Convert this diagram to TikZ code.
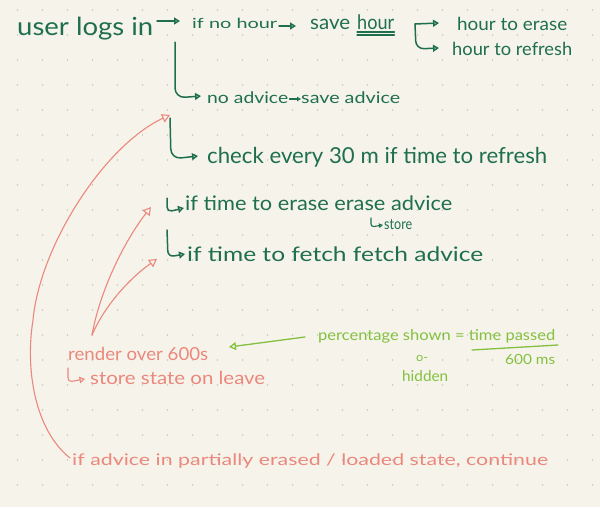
\documentclass[tikz,border=0pt]{standalone}
\usepackage{fontspec}
\usepackage{graphicx}
\setmainfont{Lato}
\usetikzlibrary{arrows.meta}
\definecolor{paper}{HTML}{F6F4EA}
\definecolor{dotc}{HTML}{CBC8BE}
\definecolor{dgreen}{HTML}{1F6F4F}
\definecolor{pinkc}{HTML}{EB877D}
\definecolor{lgreen}{HTML}{84C040}
\newcommand\fitw[3]{\resizebox{#1pt}{\height}{\fontsize{#2}{#2}\selectfont #3}}
\tikzset{
  txt/.style={inner sep=0pt, anchor=base west},
  gtxt/.style={txt, text=dgreen},
  ptxt/.style={txt, text=pinkc},
  ltxt/.style={txt, text=lgreen},
  garr/.style={draw=dgreen, line width=1.5pt, line cap=round, line join=round,
    -{Triangle[open,length=6pt,width=7pt]}},
  parr/.style={draw=pinkc, line width=1.1pt, line cap=round,
    -{Triangle[open,length=8pt,width=9pt]}},
  larr/.style={draw=lgreen, line width=1.3pt, line cap=round,
    -{Triangle[open,length=7pt,width=8pt]}},
}
\begin{document}
\begin{tikzpicture}[x=1pt,y=-1pt]
\fill[paper] (0,0) rectangle (600,507);
\useasboundingbox (0,0) rectangle (600,507);
\foreach \i in {0,...,23}{\foreach \j in {0,...,19}{
  \fill[dotc] (17.5+25*\i,10+25*\j) circle (0.9pt);}}

% green dark texts
\node[gtxt] (ulogin) at (17,35) {\fitw{136}{25}{user logs in}};
\node[gtxt] (ifnohour) at (192,28) {\fitw{85}{14}{if no hour}};
\node[gtxt] (save) at (310,29) {\fitw{40}{20}{save}};
\node[gtxt] (hour) at (357,29) {\fitw{37}{20}{hour}};
\node[gtxt] (herase) at (457,30) {\fitw{110}{18}{hour to erase}};
\node[gtxt] (hrefresh) at (452,55) {\fitw{120}{18}{hour to refresh}};
\node[gtxt] (noadv) at (207,103) {\fitw{81}{16}{no advice}};
\node[gtxt] (saveadv) at (301,103) {\fitw{99}{16}{save advice}};
\node[gtxt] (check) at (207,163) {\fitw{340}{22}{check every 30 m if time to refresh}};
\node[gtxt] (erase) at (185,210) {\fitw{267}{20}{if time to erase erase advice}};
\node[gtxt] (store) at (384,229) {\fitw{28}{15}{store}};
\node[gtxt] (fetch) at (187,261) {\fitw{296}{20}{if time to fetch fetch advice}};

% pink texts
\node[ptxt] (render) at (68,360) {\fitw{140}{18}{render over 600s}};
\node[ptxt] (sstate) at (90,384) {\fitw{175}{18}{store state on leave}};
\node[ptxt] (ifadv) at (72,465) {\fitw{476}{16}{if advice in partially erased / loaded state, continue}};

% light green texts
\node[ltxt] (perc) at (318,340) {\fitw{237}{15}{percentage shown = time passed}};
\node[ltxt] (ms) at (505,364) {\fitw{50}{14}{600 ms}};
\node[ltxt] (omin) at (416,361) {\fitw{12}{12}{o-}};
\node[ltxt] (hidden) at (402,381) {\fitw{46}{15}{hidden}};

% underline of hour
\draw[dgreen, line width=1.2pt, line cap=round] ([yshift=-3pt]hour.base west) -- ([yshift=-3pt]hour.base east);
\draw[dgreen, line width=1.2pt, line cap=round] ([yshift=-6pt]hour.base west) -- ([yshift=-6pt]hour.base east);

% green connectors
\coordinate (a1s) at (157,21); \coordinate (a1e) at (180,21);
\draw[garr] (a1s) -- (a1e);
\coordinate (a2s) at (279,26); \coordinate (a2e) at (296,26);
\draw[garr] (a2s) -- (a2e);
\coordinate (br) at (415,24);
\coordinate (b1e) at (439,23); \coordinate (b2e) at (439,48);
\draw[garr] (br) -- (b1e);
\draw[garr, rounded corners=8pt] (br) -- (416,49) -- (b2e);
\coordinate (h1s) at (175,42); \coordinate (h1e) at (201,96);
\draw[garr, rounded corners=10pt] (h1s) -- (175,98) -- (h1e);
\coordinate (h2s) at (170,118); \coordinate (h2e) at (198,156);
\draw[garr, rounded corners=10pt] (h2s) -- (171,159) -- (h2e);
\coordinate (h3s) at (167,198); \coordinate (h3e) at (184,208);
\draw[garr, rounded corners=5pt] (h3s) -- (167,212) -- (h3e);
\coordinate (h4s) at (167,230); \coordinate (h4e) at (185,254);
\draw[garr, rounded corners=6pt] (h4s) -- (168,257) -- (h4e);
\coordinate (h5s) at (371,218); \coordinate (h5e) at (383,225);
\draw[garr, line width=1.1pt, -{Triangle[open,length=4pt,width=4.5pt]}, rounded corners=3pt] (h5s) -- (371,227) -- (h5e);
\draw[garr, line width=1.2pt, -{Triangle[open,length=4pt,width=4.5pt]}] (noadv.east |- 0,99) ++(1,0) -- (saveadv.west |- 0,99);

% pink connectors
\coordinate (p0) at (70,458);
\coordinate (pt1) at (170,115);
\draw[parr] (p0) .. controls (35,430) and (25,370) .. (33,320) .. controls (40,245) and (105,145) .. (pt1);
\coordinate (rs) at (92,335);
\coordinate (pt2) at (151,207);
\coordinate (pt3) at (157,259);
\draw[parr] (rs) .. controls (100,290) and (125,240) .. (pt2);
\draw[parr] (rs) .. controls (105,305) and (130,278) .. (pt3);
\coordinate (ph) at (68,368); \coordinate (phe) at (85,379);
\draw[parr, -{Triangle[open,length=5.5pt,width=6.5pt]}, rounded corners=4pt] (ph) -- (68,382) -- (phe);

% light green connectors
\coordinate (ls) at (305,337); \coordinate (le) at (229,347);
\draw[larr] (ls) -- (le);
\coordinate (fb1) at (472,350); \coordinate (fb2) at (558,345);
\draw[lgreen, line width=1.3pt, line cap=round] (fb1) -- (fb2);
\end{tikzpicture}
\end{document}
